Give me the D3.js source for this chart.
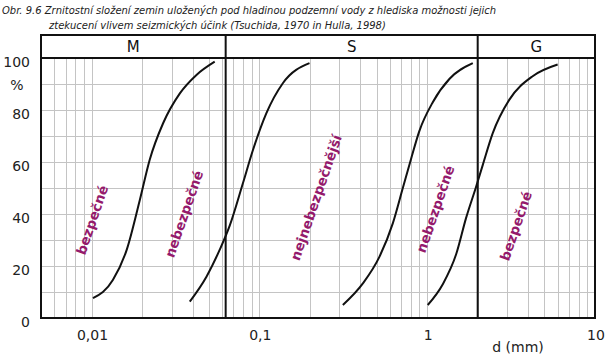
<!DOCTYPE html>
<html><head><meta charset="utf-8">
<script src="https://cdn.jsdelivr.net/npm/d3@7"></script>
<style>
html,body{margin:0;padding:0;background:#fff;}
svg{display:block;}
</style></head>
<body>
<svg id="c" width="605" height="356"></svg>
<script>
// ---- data ----
const titleLines = [
  "Obr. 9.6 Zrnitostní složení zemin uložených pod hladinou podzemní vody z hlediska možnosti jejich",
  "ztekucení vlivem seizmických účink (Tsuchida, 1970 in Hulla, 1998)"
];
const zoneBounds = [0.005, 0.063, 2, 10];
const zoneNames = ["M", "S", "G"];
const xTickValues = [0.01, 0.1, 1, 10];
const xTickLabels = ["0,01", "0,1", "1", "10"];
const yTickValues = [0, 20, 40, 60, 80, 100];
const yGridValues = [0,10,20,30,40,50,60,70,80,90,100];
const xAxisTitle = "d (mm)";
const yAxisUnit = "%";

const curve1Size = [0.0102, 0.0134, 0.0162, 0.0194, 0.0222, 0.0267, 0.0336, 0.0422, 0.0542];
const curve1Pct  = [7.6, 14.6, 26.2, 45.4, 60.8, 74.9, 86.4, 93.5, 98.6];
const curve2Size = [0.0385, 0.0484, 0.058, 0.0666, 0.0798, 0.0916, 0.110, 0.138, 0.199];
const curve2Pct  = [6.3, 15.9, 26.2, 35.5, 51.8, 64.6, 78.7, 90.3, 98.0];
const curve3Size = [0.3145, 0.414, 0.520, 0.624, 0.716, 0.80, 0.899, 1.08, 1.36, 1.87];
const curve3Pct  = [5.0, 13.3, 23.6, 36.4, 50.0, 61.0, 72.0, 83.0, 92.0, 98.0];
const curve4Size = [1.008, 1.239, 1.488, 1.706, 1.957, 2.143, 2.456, 3.09, 4.25, 5.99];
const curve4Pct  = [5.0, 13.0, 24.5, 38.5, 50.5, 58.8, 71.0, 84.0, 93.0, 97.5];

const labelTexts = ["bezpečné", "nebezpečné", "nejnebezpečnější", "nebezpečné", "bezpečné"];
const labelSize  = [0.0101, 0.0356, 0.218, 1.12, 3.38];
const labelPct   = [37.7, 40.0, 46.3, 41.9, 35.4];

// ---- layout ----
const svg = d3.select("#c");
const L = 41, R = 595, T = 58, B = 318, headTop = 35;
const x = d3.scaleLog().domain([zoneBounds[0], zoneBounds[zoneBounds.length-1]]).range([L, R]);
const y = d3.scaleLinear().domain([0, 100]).range([B, T]);
const font = "'DejaVu Sans', Verdana, sans-serif";

// title (font size fitted so the first line spans ~495 px)
const titleG = svg.append("g");
const titles = titleG.selectAll("text").data(titleLines).join("text")
  .attr("x", (d,i) => i === 0 ? 2 : 49)
  .attr("y", (d,i) => 14 + i*15)
  .attr("font-family", font).attr("font-style", "italic")
  .attr("font-size", 10).attr("fill", "#222")
  .text(d => d);
const w0 = titles.nodes()[0].getComputedTextLength();
if (w0 > 0) titles.attr("font-size", 10 * 495 / w0);

// grid
const grid = svg.append("g").attr("stroke", "#c4c4c4").attr("stroke-width", 1);
grid.selectAll("line.v").data(x.ticks()).join("line").attr("class","v")
  .attr("x1", d => Math.round(x(d))+0.5).attr("x2", d => Math.round(x(d))+0.5)
  .attr("y1", T).attr("y2", B);
grid.selectAll("line.h").data(yGridValues).join("line").attr("class","h")
  .attr("x1", L).attr("x2", R)
  .attr("y1", d => Math.round(y(d))+0.5).attr("y2", d => Math.round(y(d))+0.5);

// curves
const line = d3.line().x(d => x(d[0])).y(d => y(d[1])).curve(d3.curveMonotoneX);
const curves = [[curve1Size, curve1Pct],[curve2Size, curve2Pct],[curve3Size, curve3Pct],[curve4Size, curve4Pct]];
svg.append("g").selectAll("path").data(curves).join("path")
  .attr("d", c => line(d3.zip(c[0], c[1])))
  .attr("fill", "none").attr("stroke", "#111").attr("stroke-width", 2);

// frame
const frame = svg.append("g").attr("stroke", "#111").attr("fill", "none").attr("stroke-width", 2);
frame.append("rect").attr("x", L).attr("y", headTop).attr("width", R-L).attr("height", B-headTop);
frame.append("line").attr("x1", L).attr("x2", R).attr("y1", T).attr("y2", T);
frame.selectAll("line.z").data(zoneBounds.slice(1, -1)).join("line").attr("class","z")
  .attr("x1", d => x(d)).attr("x2", d => x(d)).attr("y1", headTop).attr("y2", B);

// zone names
svg.append("g").selectAll("text").data(zoneNames).join("text")
  .attr("x", (d,i) => (x(zoneBounds[i]) + x(zoneBounds[i+1]))/2)
  .attr("y", (headTop + T)/2 + 5.5)
  .attr("text-anchor", "middle").attr("font-family", font).attr("font-size", 15)
  .attr("fill", "#111").text(d => d);

// y ticks
svg.append("g").selectAll("text").data(yTickValues).join("text")
  .attr("x", 30).attr("y", d => y(d) + 9)
  .attr("text-anchor", "end").attr("font-family", font).attr("font-size", 14)
  .attr("fill", "#222").text(d => d);
svg.append("text").attr("x", 17).attr("y", 90).attr("text-anchor", "middle")
  .attr("font-family", font).attr("font-size", 14).attr("fill", "#222").text(yAxisUnit);

// x ticks
svg.append("g").selectAll("text").data(xTickValues).join("text")
  .attr("x", d => x(d) + 1).attr("y", 340)
  .attr("text-anchor", "middle").attr("font-family", font).attr("font-size", 14)
  .attr("fill", "#222").text((d,i) => xTickLabels[i]);
svg.append("text").attr("x", 518).attr("y", 352).attr("text-anchor", "middle")
  .attr("font-family", font).attr("font-size", 14).attr("fill", "#222").text(xAxisTitle);

// zone labels
svg.append("g").selectAll("text").data(labelTexts).join("text")
  .attr("transform", (d,i) => `translate(${x(labelSize[i])},${y(labelPct[i])}) rotate(-71)`)
  .attr("text-anchor", "middle").attr("dy", "0.35em")
  .attr("font-family", font).attr("font-weight", "bold").attr("font-size", 13.5)
  .attr("fill", "#941a6c").text(d => d);
</script>
</body></html>
